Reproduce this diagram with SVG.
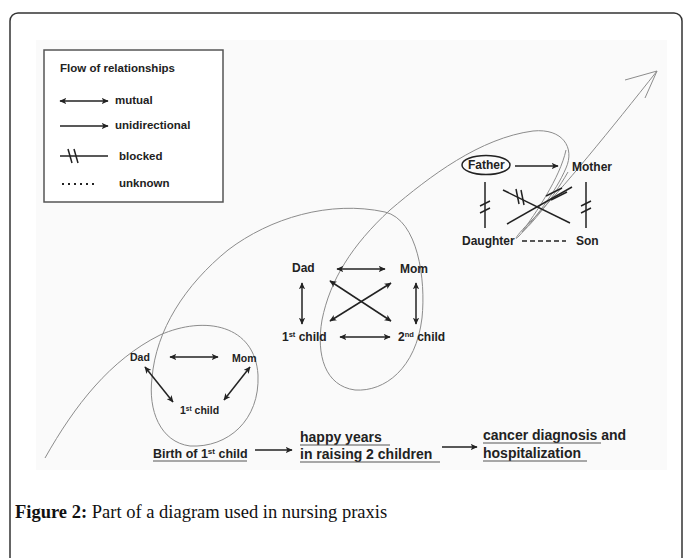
<svg xmlns="http://www.w3.org/2000/svg" width="683" height="558" viewBox="0 0 683 558">
<defs>
<marker id="ah" viewBox="0 0 10 10" refX="9" refY="5" markerWidth="7" markerHeight="7" markerUnits="userSpaceOnUse" orient="auto-start-reverse">
<path d="M0,0.5 L10,5 L0,9.5 L2.5,5 Z" fill="#222"/>
</marker>
<style>
.t{font-family:"Liberation Sans",Arial,sans-serif;font-weight:bold;fill:#222}
.a{stroke:#222;stroke-width:1.5;fill:none}
.m{marker-end:url(#ah);marker-start:url(#ah)}
.u{marker-end:url(#ah)}
.c{stroke:#8c8c8c;stroke-width:1;fill:none}
.ul{stroke:#555;stroke-width:1}
</style>
</defs>
<rect width="683" height="558" fill="#fff"/>
<rect x="10" y="13" width="672" height="600" rx="8" fill="#fff" stroke="#333" stroke-width="1.5"/>
<rect x="36" y="40" width="631" height="430" fill="#fafafa"/>

<g id="legend">
<rect x="44" y="50" width="179" height="152" fill="#fff" stroke="#555" stroke-width="1.5"/>
<text class="t" x="60" y="72" font-size="11.5">Flow of relationships</text>
<line class="a m" x1="60" y1="101" x2="108" y2="101"/>
<text class="t" x="115" y="104" font-size="11.5">mutual</text>
<line class="a u" x1="60" y1="126" x2="108" y2="126"/>
<text class="t" x="115" y="129" font-size="11.5">unidirectional</text>
<line class="a" x1="60" y1="156" x2="108" y2="156"/>
<line class="a" x1="68" y1="149" x2="72" y2="163"/>
<line class="a" x1="74" y1="149" x2="78" y2="163"/>
<text class="t" x="119" y="160" font-size="11.5">blocked</text>
<line x1="62" y1="184" x2="98" y2="184" stroke="#222" stroke-width="2" stroke-dasharray="2 4"/>
<text class="t" x="119" y="187" font-size="11.5">unknown</text>
</g>

<g id="spiral">
<path class="c" d="M45,458 C75,405 110,360 160,335 C205,315 255,325 258,375 C260,420 228,448 190,446 C160,442 148,410 152,378 C156,330 185,285 228,250 C270,218 330,200 385,212 C418,220 426,280 422,318 C416,368 385,392 355,390 C325,386 316,355 322,320 C330,280 352,245 390,210 C430,176 480,138 533,131 C563,128 575,148 566,168 C556,192 532,222 519,236 C512,243 518,233 533,219 C560,192 612,128 657,71"/>
<path class="c" d="M566,150 C560,178 535,214 522,232 C530,226 552,200 568,172"/>
<path class="c" d="M625,80 L657,71 L645,98"/>
</g>

<g id="family1">
<text class="t" x="130" y="361" font-size="10.5">Dad</text>
<text class="t" x="232" y="362" font-size="10.5">Mom</text>
<text class="t" x="180" y="414" font-size="10.5">1<tspan font-size="6.5" dy="-3.5">st</tspan><tspan dy="3.5"> child</tspan></text>
</g>
<g id="family2">
<text class="t" x="292" y="272" font-size="12">Dad</text>
<text class="t" x="400" y="273" font-size="12">Mom</text>
<text class="t" x="282" y="341" font-size="12">1<tspan font-size="7.5" dy="-4">st</tspan><tspan dy="4"> child</tspan></text>
<text class="t" x="398" y="341" font-size="12">2<tspan font-size="7.5" dy="-4">nd</tspan><tspan dy="4"> child</tspan></text>
</g>
<g id="family3">
<ellipse cx="486" cy="165" rx="24" ry="9.5" fill="none" stroke="#222" stroke-width="1.5"/>
<text class="t" x="468" y="169" font-size="12">Father</text>
<text class="t" x="572" y="171" font-size="12">Mother</text>
<text class="t" x="462" y="245" font-size="12">Daughter</text>
<text class="t" x="576" y="245" font-size="12">Son</text>
</g>
<g id="timeline">
<text class="t" x="153" y="458" font-size="12.5">Birth of 1<tspan font-size="8" dy="-4">st</tspan><tspan dy="4"> child</tspan></text>
<text class="t" x="300" y="442" font-size="14">happy years</text>
<text class="t" x="300" y="459" font-size="14">in raising 2 children</text>
<text class="t" x="483" y="440" font-size="14">cancer diagnosis and</text>
<text class="t" x="483" y="458" font-size="14">hospitalization</text>
<line class="ul" x1="153" y1="461" x2="247" y2="461"/>
<line class="ul" x1="300" y1="445" x2="390" y2="445"/>
<line class="ul" x1="300" y1="462" x2="440" y2="462"/>
<line class="ul" x1="483" y1="443" x2="601" y2="443"/>
<line class="ul" x1="483" y1="461" x2="587" y2="461"/>
</g>

<g id="connectors">
<line class="a m" x1="170" y1="357" x2="218" y2="357"/>
<line class="a m" x1="145" y1="367" x2="173" y2="402"/>
<line class="a m" x1="250" y1="367" x2="224" y2="400"/>
<line class="a m" x1="337" y1="269" x2="385" y2="269"/>
<line class="a m" x1="302" y1="283" x2="302" y2="324"/>
<line class="a m" x1="416" y1="283" x2="416" y2="324"/>
<line class="a m" x1="340" y1="337" x2="390" y2="337"/>
<line class="a m" x1="330" y1="281" x2="391" y2="321"/>
<line class="a m" x1="391" y1="283" x2="330" y2="321"/>
<line class="a u" x1="515" y1="166" x2="558" y2="166"/>
<line class="a" x1="485" y1="182" x2="485" y2="228"/>
<line class="a" x1="480" y1="206" x2="490" y2="201"/>
<line class="a" x1="480" y1="213" x2="490" y2="208"/>
<line class="a" x1="586" y1="182" x2="586" y2="228"/>
<line class="a" x1="581" y1="206" x2="591" y2="201"/>
<line class="a" x1="581" y1="213" x2="591" y2="208"/>
<line class="a" x1="503" y1="190" x2="570" y2="223"/>
<line class="a" x1="516" y1="189" x2="519" y2="204"/>
<line class="a" x1="521" y1="190" x2="524" y2="205"/>
<line class="a" x1="507" y1="224" x2="572" y2="187"/>
<line class="a" x1="546" y1="196" x2="562" y2="188"/>
<line class="a" x1="551" y1="200" x2="567" y2="192"/>
<line x1="522" y1="241" x2="566" y2="241" stroke="#222" stroke-width="1.3" stroke-dasharray="5 3"/>
<line class="a u" x1="255" y1="450" x2="292" y2="450"/>
<line class="a u" x1="442" y1="447" x2="477" y2="447"/>
</g>

<text x="15" y="518" font-family="'Liberation Serif','Times New Roman',serif" font-size="18.5" fill="#111"><tspan font-weight="bold">Figure 2:</tspan> Part of a diagram used in nursing praxis</text>
</svg>
